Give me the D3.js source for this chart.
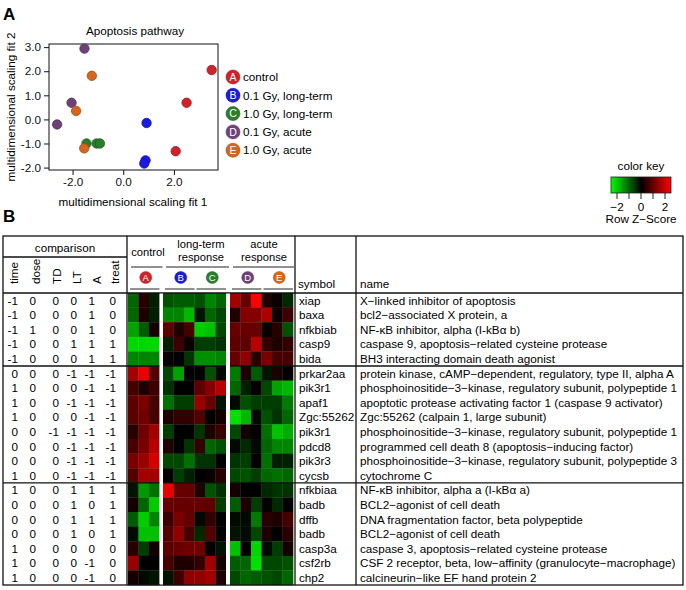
<!DOCTYPE html>
<html><head><meta charset="utf-8">
<script src="https://cdn.jsdelivr.net/npm/d3@7"></script>
<style>body{margin:0;background:#fff}svg{display:block;font-family:"Liberation Sans",Arial,sans-serif}</style>
</head><body><div id="chart"></div>
<script>
// ---------- DATA ----------
const groupIds = ["A","B","C","D","E"];
const groupLabels = ["control","0.1 Gy, long-term","1.0 Gy, long-term","0.1 Gy, acute","1.0 Gy, acute"];
const groupColors = ["#d0222a","#1a1ae0","#2a7d2a","#6e4279","#d4661e"];

// MDS points (panel A)
const mdsGroup = ["A","A","A","B","B","B","C","C","C","D","D","D","E","E","E"];
const mdsX = [3.49,2.50,2.07, 0.92,0.88,0.83, -1.45,-1.05,-0.92, -1.53,-2.04,-2.61, -1.24,-1.86,-1.54];
const mdsY = [2.05,0.69,-1.32, -0.15,-1.70,-1.83, -1.00,-1.00,-1.00, 2.94,0.69,-0.21, 1.81,0.35,-1.20];
const xTicks = [-2,0,2];
const yTicks = [3,2,1,0,-1,-2];

// Panel B table
const comparisonCols = ["time","dose","TD","LT","A","treat"];
const comparison = [
 [-1,0,0,0,1,0],[-1,0,0,0,1,0],[-1,1,0,0,1,0],[-1,0,0,1,1,1],[-1,0,0,0,1,1],
 [0,0,0,-1,-1,-1],[1,0,0,0,-1,-1],[1,0,0,-1,-1,-1],[1,0,0,0,-1,-1],[0,0,-1,-1,-1,-1],[0,0,0,-1,-1,-1],[0,0,0,-1,-1,-1],[1,0,0,-1,-1,-1],
 [1,0,0,1,1,1],[0,0,0,1,0,1],[0,0,0,1,1,1],[0,0,0,1,0,1],[1,0,0,0,0,0],[1,0,0,0,-1,0],[1,0,0,0,-1,0]
];
const symbols = ["xiap","baxa","nfkbiab","casp9","bida","prkar2aa","pik3r1","apaf1","Zgc:55262","pik3r1","pdcd8","pik3r3","cycsb","nfkbiaa","badb","dffb","badb","casp3a","csf2rb","chp2"];
const names = [
 "X\u2212linked inhibitor of apoptosis",
 "bcl2\u2212associated X protein, a",
 "NF-\u03baB inhibitor, alpha  (I-kB\u03b1 b)",
 "caspase 9, apoptosis\u2212related cysteine protease",
 "BH3 interacting domain death agonist",
 "protein kinase, cAMP\u2212dependent, regulatory, type II, alpha A",
 "phosphoinositide\u22123\u2212kinase, regulatory subunit, polypeptide 1",
 "apoptotic protease activating factor 1 (caspase 9 activator)",
 "Zgc:55262 (calpain 1, large subunit)",
 "phosphoinositide\u22123\u2212kinase, regulatory subunit, polypeptide 1",
 "programmed cell death 8 (apoptosis\u2212inducing factor)",
 "phosphoinositide\u22123\u2212kinase, regulatory subunit, polypeptide 3",
 "cytochrome C",
 "NF-\u03baB inhibitor, alpha a (I-kB\u03b1 a)",
 "BCL2\u2212agonist of cell death",
 "DNA fragmentation factor, beta polypeptide",
 "BCL2\u2212agonist of cell death",
 "caspase 3, apoptosis\u2212related cysteine protease",
 "CSF 2 receptor, beta, low\u2212affinity (granulocyte\u2212macrophage)",
 "calcineurin\u2212like EF hand protein 2"
];
const rowGroupSizes = [5,8,7];

// Row Z-scores, 3 replicates per condition
const zA = [[-1.0,0.4,-0.3],[-1.0,0.3,-0.3],[-1.6,-0.9,0.2],[-2.1,-2.1,-2.1],[-1.3,-1.3,-1.3],
 [1.6,2.3,0.8],[0.7,0.3,0.6],[0.9,1.2,0.7],[0.9,1.1,0.7],[0.4,1.1,1.6],[0.7,1.2,1.8],[1.2,1.5,2.1],[0.8,1.6,1.6],
 [-0.2,-1.5,-1.1],[0.2,-1.0,-2.0],[-0.9,-2.0,-1.3],[-0.1,-1.9,-1.9],[0.4,-0.6,0.2],[1.5,0.0,0.0],[0.2,-0.1,-0.2]];
const zB = [[-0.8,-0.9,-0.9],[-1.3,-1.3,-1.8],[0.9,0.3,0.7],[-0.3,0.6,0.1],[0.1,0.0,-0.5],
 [-0.7,-1.6,0.0],[-0.5,0.0,0.0],[-1.1,-0.6,-0.6],[0.3,0.5,0.5],[-0.6,0.0,0.0],[0.3,0.0,-0.5],[-0.7,-0.7,-1.1],[0.0,-0.6,-0.3],
 [2.3,1.0,1.0],[1.0,1.0,1.0],[0.6,1.2,1.0],[0.8,1.4,0.7],[0.9,1.0,1.1],[0.7,0.3,0.3],[-0.2,0.6,1.4]];
const zC = [[-0.8,-1.3,-1.0],[-0.2,-1.0,-0.7],[-2.0,-1.9,-0.7],[-0.6,-0.6,-0.5],[-1.4,-1.4,-1.3],
 [0.0,-0.8,-0.1],[0.9,1.3,1.8],[1.5,1.0,-0.2],[0.8,0.0,0.2],[-0.5,0.3,0.6],[0.5,-1.0,-0.8],[-0.5,-0.5,0.0],[0.0,0.1,0.4],
 [0.3,-0.8,-0.5],[1.0,0.9,-0.6],[-0.1,0.5,0.0],[-0.4,0.8,0.0],[1.1,0.0,-0.2],[0.5,1.6,0.2],[1.4,1.6,0.3]];
const zD = [[1.6,1.0,2.5],[0.3,1.3,1.3],[1.0,1.0,1.0],[0.9,0.9,1.8],[1.0,1.4,0.4],
 [-1.2,0.3,-0.9],[-1.0,-0.3,0.0],[-0.1,-0.8,-0.6],[-2.2,-1.8,-0.1],[-0.7,0.2,0.0],[-0.1,-0.4,-0.1],[-0.5,-0.6,0.0],[-0.7,-0.8,-0.6],
 [0.2,0.0,0.0],[-0.9,0.3,-0.6],[-0.1,-0.1,-1.2],[-0.2,-0.1,-0.7],[-1.9,0.0,-2.1],[-0.9,-1.0,-2.2],[-0.7,-1.0,-0.9]];
const zE = [[0.3,0.1,-0.4],[1.7,0.1,0.6],[0.1,0.4,-0.8],[0.5,0.3,0.5],[1.2,0.7,0.7],
 [-0.2,0.3,0.0],[-0.7,-1.6,-1.8],[-0.6,-0.6,-1.2],[-0.8,-0.5,-1.0],[-1.1,-1.9,-1.7],[-1.0,-1.3,-1.3],[-1.1,-0.3,-0.3],[-1.0,-1.1,-1.0],
 [-0.4,-0.5,-0.5],[0.0,-0.4,0.0],[0.4,0.3,0.7],[0.3,0.0,0.4],[-0.1,-0.6,0.2],[-0.7,-0.7,-0.8],[-0.8,-0.7,-1.0]];
const keyTicks = [-2,-1,0,1,2];
const keyLabels = [-2,0,2];

// ---------- DRAW ----------
const W=686,H=590;
const FS=11.7;
const svg = d3.select("#chart").append("svg").attr("width",W).attr("height",H);
svg.append("rect").attr("width",W).attr("height",H).attr("fill","#fff");
const col = d3.scaleOrdinal(groupIds, groupColors);
const F = "Liberation Sans, Arial, sans-serif";

// Panel labels
svg.append("text").attr("x",3).attr("y",20).attr("font-size",17).attr("font-weight","bold").text("A");
svg.append("text").attr("x",3).attr("y",222).attr("font-size",17).attr("font-weight","bold").text("B");

// Panel A
const xS = d3.scaleLinear().domain([-2.93,3.74]).range([49,218]);
const yS = d3.scaleLinear().domain([-2.10,3.13]).range([170,44]);
const gA = svg.append("g").attr("font-size",FS);
gA.append("text").attr("x",135).attr("y",35).attr("text-anchor","middle").text("Apoptosis pathway");
const ax = gA.append("g").attr("transform","translate(0,170)")
  .call(d3.axisBottom(xS).tickValues(xTicks).tickFormat(d=>d.toFixed(1)).tickSize(5).tickPadding(3));
const ay = gA.append("g").attr("transform","translate(49,0)")
  .call(d3.axisLeft(yS).tickValues(yTicks).tickFormat(d=>d.toFixed(1)).tickSize(5).tickPadding(3));
[ax,ay].forEach(g=>{g.select(".domain").remove();g.selectAll("text").attr("font-size",FS).attr("font-family",F).attr("fill","#111");g.selectAll("line").attr("stroke","#111");});
gA.append("rect").attr("x",49).attr("y",44).attr("width",169).attr("height",126).attr("fill","none").attr("stroke","#111");
gA.append("text").attr("x",133).attr("y",206).attr("text-anchor","middle").text("multidimensional scaling fit 1");
gA.append("text").attr("transform","translate(15,107) rotate(-90)").attr("text-anchor","middle").text("multidimensional scaling fit 2");
gA.selectAll("circle.pt").data(mdsX.map((x,i)=>({x,y:mdsY[i],g:mdsGroup[i]}))).join("circle")
  .attr("class","pt").attr("cx",d=>xS(d.x)).attr("cy",d=>yS(d.y)).attr("r",4.7)
  .attr("fill",d=>col(d.g)).attr("stroke",d=>d3.color(col(d.g)).darker(0.8)).attr("stroke-width",0.8);

// Legend
const lg = svg.append("g").attr("font-size",FS);
groupIds.forEach((g,i)=>{
  const y = 77 + i*18.3;
  lg.append("circle").attr("cx",233).attr("cy",y).attr("r",7).attr("fill",col(g)).attr("stroke",d3.color(col(g)).darker(0.6)).attr("stroke-width",0.6);
  lg.append("text").attr("x",233).attr("y",y).attr("dy","0.36em").attr("text-anchor","middle").attr("fill","#fff").attr("font-size",10.5).text(g);
  lg.append("text").attr("x",243).attr("y",y).attr("dy","0.36em").text(groupLabels[i]);
});

// Colour scale
const cs = d3.scaleLinear().domain([-2.5,0,2.5]).range(["#00ff00","#000000","#ff0000"]).clamp(true);

// Colour key
const kx = d3.scaleLinear().domain([-2.5,2.5]).range([611,671]);
const grad = svg.append("defs").append("linearGradient").attr("id","kg");
d3.range(0,1.0001,0.1).forEach(t=>grad.append("stop").attr("offset",t).attr("stop-color",cs(-2.5+5*t)));
const kg = svg.append("g").attr("font-size",FS);
kg.append("text").attr("x",641).attr("y",170).attr("text-anchor","middle").text("color key");
kg.append("rect").attr("x",kx(-2.5)).attr("y",177).attr("width",kx(2.5)-kx(-2.5)).attr("height",16).attr("fill","url(#kg)").attr("stroke","#222").attr("stroke-width",0.8);
kg.selectAll("line.kt").data(keyTicks).join("line").attr("x1",d=>kx(d)).attr("x2",d=>kx(d)).attr("y1",193).attr("y2",199).attr("stroke","#222");
kg.selectAll("text.kl").data(keyLabels).join("text").attr("class","kl").attr("x",d=>kx(d)).attr("y",211).attr("text-anchor","middle").text(d=>d<0?"\u2212"+Math.abs(d):d);
kg.append("text").attr("x",641).attr("y",223).attr("text-anchor","middle").text("Row Z\u2212Score");

// Panel B table
const T = {x0:3,x1:683,y0:236,y1:585,hdr:293};
const rowY = d3.scaleBand().domain(d3.range(symbols.length)).range([T.hdr,T.y1]);
const rh = rowY.bandwidth();
const blocks = [
  {name:"control", ids:["A"], x0:128, x1:159.5},
  {name:"long", ids:["B","C"], x0:163, x1:226},
  {name:"acute", ids:["D","E"], x0:230, x1:293}
];
const zByGroup = {A:zA,B:zB,C:zC,D:zD,E:zE};
const gB = svg.append("g").attr("font-size",FS);
const cells=[];
const groupSpan={};
blocks.forEach(b=>{
  const keys=[]; b.ids.forEach(g=>[0,1,2].forEach(r=>keys.push(g+r)));
  const bx = d3.scaleBand().domain(keys).range([b.x0,b.x1]);
  b.ids.forEach(g=>{
    groupSpan[g]=[bx(g+"0"), bx(g+"2")+bx.bandwidth()];
    zByGroup[g].forEach((row,ri)=>row.forEach((v,r)=>cells.push({x:bx(g+r),w:bx.bandwidth(),y:rowY(ri),v})));
  });
});
gB.selectAll("rect.cell").data(cells).join("rect").attr("class","cell")
  .attr("x",d=>d.x).attr("y",d=>d.y).attr("width",d=>d.w+0.3).attr("height",rh+0.3).attr("fill",d=>cs(d.v));

// comparison values
const cmpX = [18,36,59,77,95,116];
const cmpHdrX = [14,36,57,77,97,115];
comparison.forEach((row,ri)=>row.forEach((v,ci)=>{
  gB.append("text").attr("x",cmpX[ci]).attr("y",rowY(ri)+rh/2).attr("dy","0.36em").attr("text-anchor","end").text(v);
}));
comparisonCols.forEach((c,i)=>{
  gB.append("text").attr("transform",`translate(${cmpHdrX[i]+4},284) rotate(-90)`).attr("text-anchor","start").text(c);
});
gB.append("text").attr("x",65).attr("y",252).attr("text-anchor","middle").text("comparison");

// symbols & names
symbols.forEach((s,i)=>{
  gB.append("text").attr("x",299).attr("y",rowY(i)+rh/2).attr("dy","0.36em").text(s);
  gB.append("text").attr("x",360).attr("y",rowY(i)+rh/2).attr("dy","0.36em").text(names[i]);
});
gB.append("text").attr("x",298).attr("y",288).text("symbol");
gB.append("text").attr("x",360).attr("y",288).text("name");

// heatmap header
const hdr = gB.append("g").attr("font-size",11.2).attr("text-anchor","middle");
hdr.append("text").attr("x",148).attr("y",256).text("control");
hdr.append("text").attr("x",201).attr("y",248).text("long-term");
hdr.append("text").attr("x",201).attr("y",260.5).text("response");
hdr.append("text").attr("x",264).attr("y",248).text("acute");
hdr.append("text").attr("x",264).attr("y",260.5).text("response");
blocks.forEach(b=>{
  gB.append("line").attr("x1",b.x0+3).attr("x2",Math.min(b.x1+3,294)).attr("y1",267).attr("y2",267).attr("stroke","#222").attr("stroke-width",1);
});
groupIds.forEach(g=>{
  const [a,b]=groupSpan[g]; const cx=(a+b)/2+2;
  gB.append("circle").attr("cx",cx).attr("cy",277.5).attr("r",6).attr("fill",col(g)).attr("stroke",d3.color(col(g)).darker(0.6)).attr("stroke-width",0.5);
  gB.append("text").attr("x",cx).attr("y",277.5).attr("dy","0.36em").attr("text-anchor","middle").attr("fill","#fff").attr("font-size",9.5).text(g);
  gB.append("line").attr("x1",a+2).attr("x2",b).attr("y1",289).attr("y2",289).attr("stroke","#222").attr("stroke-width",1);
});

// table lines
const L = gB.append("g").attr("stroke","#111").attr("stroke-width",1.3).attr("fill","none");
L.append("rect").attr("x",T.x0).attr("y",T.y0).attr("width",T.x1-T.x0).attr("height",T.y1-T.y0);
[127,295,356].forEach(x=>L.append("line").attr("x1",x).attr("x2",x).attr("y1",T.y0).attr("y2",T.y1));
L.append("line").attr("x1",T.x0).attr("x2",127).attr("y1",257).attr("y2",257);
L.append("line").attr("x1",T.x0).attr("x2",T.x1).attr("y1",T.hdr).attr("y2",T.hdr);
let acc=0;
rowGroupSizes.slice(0,-1).forEach(n=>{acc+=n; const y=rowY(acc);
  L.append("line").attr("x1",T.x0).attr("x2",T.x1).attr("y1",y).attr("y2",y);});
// white block separators
[[159.5,163],[226,230]].forEach(([a,b])=>gB.append("rect").attr("x",a).attr("y",T.hdr+0.7).attr("width",b-a).attr("height",T.y1-T.hdr-1.4).attr("fill","#fff"));
</script></body></html>
